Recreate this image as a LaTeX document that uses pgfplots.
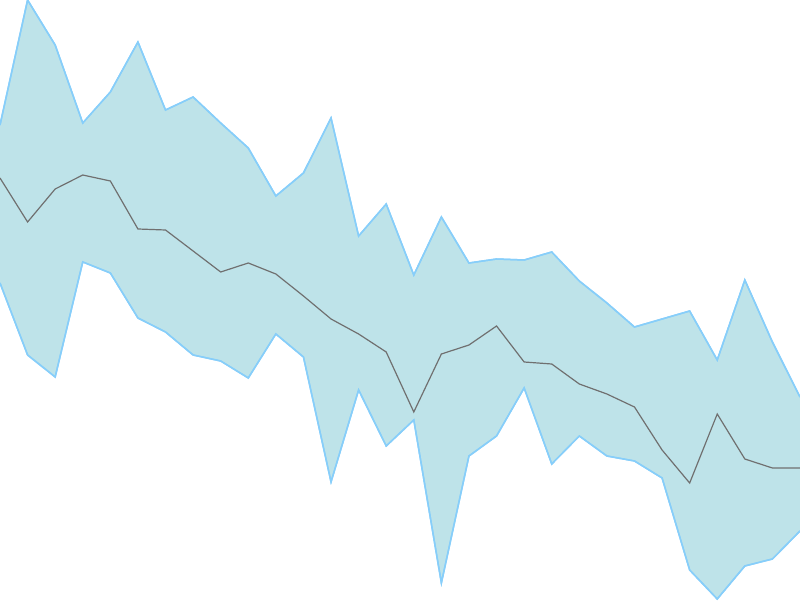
\documentclass[border=0pt]{standalone}
\usepackage{pgfplots}
\pgfplotsset{compat=1.18}
\usepgfplotslibrary{fillbetween}
\definecolor{bandfill}{HTML}{BEE3E9}
\definecolor{bandline}{HTML}{87CEFA}
\definecolor{midline}{HTML}{707070}
\begin{document}
\begin{tikzpicture}
\begin{axis}[hide axis, scale only axis, width=800pt, height=600pt,
  xmin=0, xmax=29, ymin=0, ymax=600, clip=true]
\addplot[name path=upper, bandline, line width=1.5pt] coordinates {
(0,475)(1,600)(2,555)(3,477)(4,508)(5,558)(6,490)(7,503)(8,477)(9,452)
(10,404)(11,427)(12,482)(13,364)(14,396)(15,325)(16,383)(17,337)(18,341)(19,340)
(20,348)(21,319)(22,297)(23,273)(24,281)(25,289)(26,240)(27,320)(28,258)(29,203)};
\addplot[name path=lower, bandline, line width=1.5pt] coordinates {
(0,317)(1,245)(2,223)(3,338)(4,327)(5,282)(6,268)(7,245)(8,239)(9,222)
(10,266)(11,243)(12,118)(13,210)(14,154)(15,180)(16,17)(17,144)(18,164)(19,212)
(20,136)(21,164)(22,144)(23,139)(24,122)(25,30)(26,1)(27,34)(28,41)(29,69)};
\addplot[bandfill] fill between[of=upper and lower];
\addplot[name path=upper2, bandline, line width=1.5pt] coordinates {
(0,475)(1,600)(2,555)(3,477)(4,508)(5,558)(6,490)(7,503)(8,477)(9,452)
(10,404)(11,427)(12,482)(13,364)(14,396)(15,325)(16,383)(17,337)(18,341)(19,340)
(20,348)(21,319)(22,297)(23,273)(24,281)(25,289)(26,240)(27,320)(28,258)(29,203)};
\addplot[bandline, line width=1.5pt] coordinates {
(0,317)(1,245)(2,223)(3,338)(4,327)(5,282)(6,268)(7,245)(8,239)(9,222)
(10,266)(11,243)(12,118)(13,210)(14,154)(15,180)(16,17)(17,144)(18,164)(19,212)
(20,136)(21,164)(22,144)(23,139)(24,122)(25,30)(26,1)(27,34)(28,41)(29,69)};
\addplot[midline, line width=1.2pt] coordinates {
(0,422)(1,378)(2,411)(3,425)(4,419)(5,371)(6,370)(7,349)(8,328)(9,337)
(10,326)(11,304)(12,281)(13,266)(14,248)(15,188)(16,246)(17,255)(18,274)(19,238)
(20,236)(21,216)(22,206)(23,193)(24,150)(25,117)(26,186)(27,141)(28,132)(29,132)};
\end{axis}
\end{tikzpicture}
\end{document}
